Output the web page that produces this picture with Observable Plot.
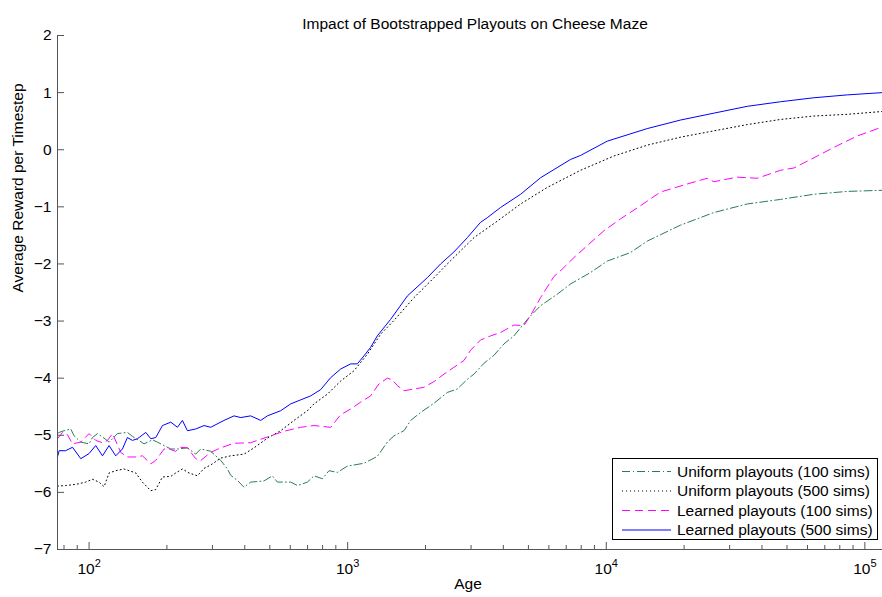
<!DOCTYPE html>
<html>
<head>
<meta charset="utf-8">
<script src="https://cdn.jsdelivr.net/npm/d3@7"></script>
<script src="https://cdn.jsdelivr.net/npm/@observablehq/plot@0.6"></script>
<style>
  html, body { margin: 0; padding: 0; background: #fff; }
  #chart { width: 882px; height: 597px; }
</style>
</head>
<body>
<div id="chart"></div>
<script>
// ---- Data ----
const titleText = "Impact of Bootstrapped Playouts on Cheese Maze";
const xLabel = "Age";
const yLabel = "Average Reward per Timestep";

const seriesNames = [
  "Uniform playouts (100 sims)",
  "Uniform playouts (500 sims)",
  "Learned playouts (100 sims)",
  "Learned playouts (500 sims)"
];

// Uniform playouts (100 sims)
const uniform100Age = [75.5, 76.6, 80.1, 85.0, 87.5, 92.9, 100, 103.1, 107.8, 114.3, 119.5, 128.8, 140.7, 147.2, 163.2, 175.9, 183.8, 195.0, 207.0, 219.7, 240.1, 258.5, 270.3, 295.4, 322.9, 342.8, 352.9, 374.6, 397.3, 421.7, 474.7, 511.5, 535.0, 602.2, 639.2, 698.8, 741.1, 798.6, 846.9, 912.6, 997.3, 1156, 1302, 1424, 1510, 1651, 1752, 1915, 2156, 2429, 2655, 2902, 3078, 3365, 3678, 4021, 4395, 5020, 5572, 6466, 7278, 8694, 10090, 12410, 14400, 19380, 26060, 35090, 47190, 63520, 85430, 117000];
const uniform100Val = [-4.97, -4.95, -4.92, -4.89, -5.01, -5.12, -5.15, -5.04, -4.97, -5.05, -5.12, -4.97, -4.95, -5.02, -5.15, -5.08, -5.12, -5.18, -5.24, -5.24, -5.22, -5.33, -5.24, -5.28, -5.44, -5.59, -5.70, -5.79, -5.91, -5.82, -5.80, -5.71, -5.82, -5.82, -5.88, -5.82, -5.71, -5.76, -5.62, -5.65, -5.54, -5.49, -5.37, -5.12, -5.01, -4.92, -4.74, -4.60, -4.44, -4.25, -4.19, -4.02, -3.93, -3.74, -3.60, -3.40, -3.26, -2.94, -2.73, -2.53, -2.35, -2.15, -1.95, -1.80, -1.60, -1.32, -1.10, -0.95, -0.87, -0.78, -0.73, -0.71];

// Uniform playouts (500 sims)
const uniform500Age = [75.5, 81.2, 88.8, 97.1, 103.1, 109.3, 114.3, 119.5, 126.8, 136.5, 151.6, 160.8, 173.2, 181.1, 192.2, 207.0, 216.4, 229.6, 243.5, 262.4, 278.3, 295.4, 322.9, 352.9, 397.3, 434.3, 489.3, 550.8, 620.1, 698.8, 741.1, 834.9, 939.6, 1058, 1192, 1341, 1510, 1805, 2094, 2429, 2734, 3078, 3791, 4664, 5914, 7955, 10700, 14400, 19380, 26060, 35090, 47190, 63520, 85430, 117000];
const uniform500Val = [-5.89, -5.88, -5.86, -5.82, -5.77, -5.82, -5.90, -5.66, -5.62, -5.59, -5.66, -5.82, -5.97, -5.95, -5.73, -5.72, -5.66, -5.59, -5.66, -5.71, -5.58, -5.52, -5.40, -5.36, -5.33, -5.22, -5.05, -4.92, -4.74, -4.57, -4.45, -4.28, -4.05, -3.87, -3.58, -3.23, -2.99, -2.59, -2.30, -2.00, -1.77, -1.54, -1.25, -0.95, -0.66, -0.36, -0.11, 0.08, 0.22, 0.33, 0.44, 0.53, 0.59, 0.62, 0.67];

// Learned playouts (100 sims)
const learned100Age = [75.5, 78.9, 82.5, 86.3, 92.9, 100, 106.1, 112.7, 117.8, 123.2, 132.6, 140.7, 151.6, 160.8, 173.2, 181.1, 195.0, 203.9, 216.4, 226.2, 240.1, 258.5, 270.3, 295.4, 322.9, 363.4, 421.7, 489.3, 567.3, 658.3, 741.1, 859.8, 939.6, 1027, 1123, 1227, 1321, 1424, 1489, 1556, 1651, 1805, 1972, 2156, 2357, 2576, 2816, 2989, 3267, 3571, 3904, 4395, 4803, 5097, 5572, 6273, 6760, 7494, 8443, 9788, 11360, 13570, 16220, 20570, 24570, 26060, 32090, 38350, 47190, 53150, 61680, 78170, 93390, 117000];
const learned100Val = [-5.06, -4.95, -4.99, -5.15, -5.12, -4.97, -5.09, -5.13, -5.09, -4.97, -5.30, -5.38, -5.38, -5.36, -5.50, -5.44, -5.24, -5.24, -5.28, -5.21, -5.22, -5.41, -5.44, -5.30, -5.22, -5.14, -5.13, -5.03, -4.93, -4.86, -4.83, -4.86, -4.64, -4.54, -4.42, -4.31, -4.10, -4.00, -4.03, -4.13, -4.22, -4.19, -4.16, -4.06, -3.93, -3.81, -3.69, -3.51, -3.33, -3.26, -3.20, -3.07, -3.08, -2.90, -2.59, -2.22, -2.09, -1.89, -1.68, -1.42, -1.21, -0.98, -0.74, -0.60, -0.50, -0.56, -0.48, -0.50, -0.36, -0.32, -0.17, 0.07, 0.24, 0.40];

// Learned playouts (500 sims)
const learned500Age = [75.5, 76.6, 81.2, 86.3, 92.9, 100, 106.1, 112.7, 119.5, 126.8, 134.6, 140.7, 147.2, 153.9, 165.7, 173.2, 181.1, 192.2, 207.0, 219.7, 229.6, 240.1, 258.5, 278.3, 295.4, 332.5, 363.4, 385.8, 421.7, 461.0, 489.3, 550.8, 602.2, 658.3, 719.6, 786.6, 859.8, 939.6, 1027, 1090, 1156, 1227, 1302, 1466, 1702, 2033, 2288, 2576, 2902, 3267, 3468, 3904, 4664, 5572, 7278, 7955, 10090, 14400, 19380, 26060, 35090, 47190, 63520, 85430, 117000];
const learned500Val = [-5.38, -5.27, -5.27, -5.21, -5.41, -5.32, -5.18, -5.36, -5.18, -5.36, -5.24, -5.04, -5.09, -5.06, -4.95, -5.06, -5.04, -4.83, -4.77, -4.86, -4.74, -4.92, -4.89, -4.83, -4.86, -4.74, -4.66, -4.69, -4.66, -4.74, -4.66, -4.57, -4.45, -4.38, -4.31, -4.20, -3.99, -3.84, -3.75, -3.75, -3.61, -3.46, -3.26, -2.97, -2.56, -2.24, -2.00, -1.79, -1.54, -1.27, -1.19, -1.01, -0.78, -0.49, -0.17, -0.10, 0.15, 0.37, 0.52, 0.64, 0.76, 0.84, 0.91, 0.96, 1.00];

const xDomain = [75.5, 117000];
const yDomain = [-7, 2];
const yTicks = [-7, -6, -5, -4, -3, -2, -1, 0, 1, 2];
const xMajorTicks = [100, 1000, 10000, 100000];
const xMinorTicks = [80, 90, 200, 300, 400, 500, 600, 700, 800, 900, 2000, 3000, 4000, 5000, 6000, 7000, 8000, 9000, 20000, 30000, 40000, 50000, 60000, 70000, 80000, 90000];

// ---- Build table ----
const ages = [uniform100Age, uniform500Age, learned100Age, learned500Age];
const vals = [uniform100Val, uniform500Val, learned100Val, learned500Val];
const styles = [
  {stroke: "#2a7d52", dash: "8,3,1,3"},
  {stroke: "#000000", dash: "1,3"},
  {stroke: "#ff00ff", dash: "8,5"},
  {stroke: "#0000ff", dash: null}
];
const series = seriesNames.map((name, i) => ({
  name, stroke: styles[i].stroke, dash: styles[i].dash,
  points: ages[i].map((a, j) => ({age: a, value: vals[i][j]}))
}));

const FONT = "'Liberation Sans', Arial, Helvetica, sans-serif";
const FS = 15.5;
const AXIS = "#555";

const lineMarks = series.map(s => Plot.line(s.points, {
  x: "age", y: "value", stroke: s.stroke, strokeWidth: 1,
  strokeDasharray: s.dash || undefined, curve: "linear"
}));

const plot = Plot.plot({
  width: 882,
  height: 597,
  marginLeft: 57,
  marginRight: 0,
  marginTop: 35,
  marginBottom: 48,
  style: {fontFamily: FONT, fontSize: FS + "px", background: "#fff", color: "#000"},
  x: {type: "log", domain: xDomain, label: null},
  y: {domain: yDomain, label: null},
  marks: [
    ...lineMarks,
    // axis lines
    Plot.ruleX([xDomain[0]], {stroke: AXIS, strokeWidth: 1}),
    Plot.ruleY([yDomain[0]], {stroke: AXIS, strokeWidth: 1}),
    // y ticks (inward) and labels
    Plot.axisY({ticks: yTicks, tickSize: -7, tickFormat: () => "", stroke: AXIS, label: null}),
    Plot.axisY({ticks: yTicks, tickSize: 0, tickPadding: 6, fontSize: FS, fill: "#000", label: null}),
    // x ticks (inward), major and minor
    Plot.axisX({ticks: xMajorTicks, tickSize: -7, tickFormat: () => "", stroke: AXIS, label: null}),
    Plot.axisX({ticks: xMinorTicks, tickSize: -4, tickFormat: () => "", stroke: AXIS, label: null}),
    Plot.axisX({ticks: xMajorTicks, tickSize: 0, tickPadding: 13, fontSize: FS, fill: "#000", label: null,
      tickFormat: d => "10^" + Math.round(Math.log10(d))}),
    // titles
    Plot.text([titleText], {frameAnchor: "top", dy: -18, dx: 5, fontSize: FS, fill: "#000"}),
    Plot.text([xLabel], {frameAnchor: "bottom", dy: 39, dx: -2, fontSize: FS, fill: "#000"}),
    Plot.text([yLabel], {frameAnchor: "left", dx: -39, rotate: -90, fontSize: FS, fill: "#000"})
  ]
});

document.getElementById("chart").appendChild(plot);

// superscript exponents in the x tick labels
const svg = d3.select(plot);
svg.selectAll('g[aria-label="x-axis tick label"] text').each(function() {
  const t = d3.select(this);
  const s = t.text();
  if (s.indexOf("^") < 0) return;
  const [base, exp] = s.split("^");
  t.text(null);
  t.append("tspan").text(base);
  t.append("tspan").attr("dy", "-0.6em").attr("font-size", "11px").text(exp);
});

// legend (drawn inside the plot's SVG)
const lg = svg.append("g").attr("font-family", FONT).attr("font-size", FS).attr("text-anchor", "start");
lg.append("rect").attr("x", 612.5).attr("y", 458.5).attr("width", 265).attr("height", 81)
  .attr("fill", "#fff").attr("stroke", "#000").attr("stroke-width", 1);
series.forEach((s, i) => {
  const yy = 471.5 + i * 19.5;
  lg.append("line").attr("x1", 622).attr("x2", 671).attr("y1", yy).attr("y2", yy)
    .attr("stroke", s.stroke).attr("stroke-width", 1)
    .attr("stroke-dasharray", s.dash || null);
  lg.append("text").attr("x", 677).attr("y", yy).attr("dy", "0.35em")
    .attr("text-anchor", "start").attr("fill", "#000").text(s.name);
});
</script>
</body>
</html>
